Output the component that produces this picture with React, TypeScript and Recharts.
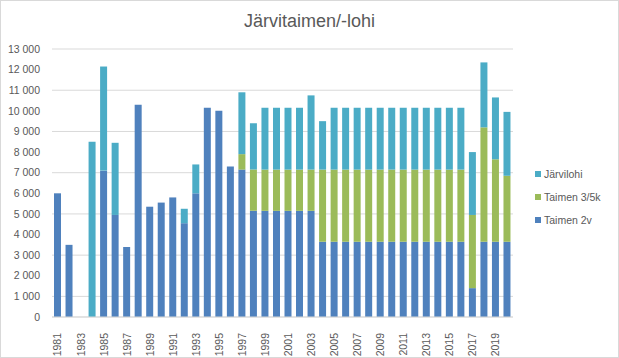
import React from "react";
import { BarChart, Bar, XAxis, YAxis, CartesianGrid } from "recharts";

const years = [
  "1981","1982","1983","1984","1985","1986","1987","1988","1989","1990",
  "1991","1992","1993","1994","1995","1996","1997","1998","1999","2000",
  "2001","2002","2003","2004","2005","2006","2007","2008","2009","2010",
  "2011","2012","2013","2014","2015","2016","2017","2018","2019","2020",
];

const taimen2v = [
  6000, 3500, 0, 0, 7100, 4950, 3400, 10300, 5350, 5550,
  5800, 4550, 6000, 10150, 10000, 7300, 7150, 5150, 5150, 5150,
  5150, 5150, 5150, 3650, 3650, 3650, 3650, 3650, 3650, 3650,
  3650, 3650, 3650, 3650, 3650, 3650, 1400, 3650, 3650, 3650,
];

const taimen35k = [
  0, 0, 0, 0, 0, 0, 0, 0, 0, 0,
  0, 0, 0, 0, 0, 0, 750, 2000, 2000, 2000,
  2000, 2000, 2000, 3500, 3500, 3500, 3500, 3500, 3500, 3500,
  3500, 3500, 3500, 3500, 3500, 3500, 3550, 5550, 4000, 3200,
];

const jarvilohi = [
  0, 0, 0, 8500, 5050, 3500, 0, 0, 0, 0,
  0, 700, 1400, 0, 0, 0, 3000, 2250, 3000, 3000,
  3000, 3000, 3600, 2350, 3000, 3000, 3000, 3000, 3000, 3000,
  3000, 3000, 3000, 3000, 3000, 3000, 3050, 3150, 3000, 3100,
];

const yTicks = [0, 1000, 2000, 3000, 4000, 5000, 6000, 7000, 8000, 9000, 10000, 11000, 12000, 13000];

const seriesNames = { t2: "Taimen 2v", t35: "Taimen 3/5k", jl: "Järvilohi" };
const colors = { t2: "#4F81BD", t35: "#9BBB59", jl: "#4BACC6" };

const data = years.map((y, i) => ({
  year: y,
  t2: taimen2v[i],
  t35: taimen35k[i],
  jl: jarvilohi[i],
}));

const FONT = "'Liberation Sans', Arial, sans-serif";
const TEXT = "#595959";

const fmt = (v: number) => {
  const s = String(v);
  return s.length > 3 ? s.slice(0, s.length - 3) + " " + s.slice(-3) : s;
};

const XTick = (props: any) => {
  const { x, y, payload } = props;
  return (
    <text
      transform={`translate(${x},${y + 8}) rotate(-90)`}
      textAnchor="end"
      dy="0.35em"
      fontSize={10.5}
      fill={TEXT}
      fontFamily={FONT}
    >
      {payload.value}
    </text>
  );
};

const LegendBox = () => {
  const items = [
    { key: "jl", name: seriesNames.jl },
    { key: "t35", name: seriesNames.t35 },
    { key: "t2", name: seriesNames.t2 },
  ];
  return (
    <div
      style={{
        position: "absolute",
        left: 535,
        top: 162,
        fontFamily: FONT,
        fontSize: 10.5,
        color: TEXT,
      }}
    >
      {items.map((it) => (
        <div key={it.key} style={{ display: "flex", alignItems: "center", height: 23 }}>
          <span
            style={{
              display: "inline-block",
              width: 6,
              height: 6,
              background: (colors as any)[it.key],
              marginRight: 3,
            }}
          />
          <span>{it.name}</span>
        </div>
      ))}
    </div>
  );
};

export default function App() {
  return (
    <div
      style={{
        position: "absolute",
        left: 0,
        top: 0,
        width: 619,
        height: 358,
        background: "#fff",
      }}
    >
      <div
        style={{
          position: "absolute",
          left: 0,
          top: 0,
          width: 617,
          height: 356,
          border: "1px solid #d9d9d9",
        }}
      />
      <div
        style={{
          position: "absolute",
          left: 0,
          width: 619,
          top: 11,
          textAlign: "center",
          fontFamily: FONT,
          fontSize: 18,
          color: TEXT,
        }}
      >
        Järvitaimen/-lohi
      </div>
      <div style={{ position: "absolute", left: 0, top: 0 }}>
        <BarChart
          width={619}
          height={358}
          data={data}
          margin={{ top: 49, right: 106, bottom: 1, left: 0 }}
        >
          <CartesianGrid vertical={false} stroke="#d9d9d9" />
          <XAxis
            dataKey="year"
            interval={1}
            tickLine={false}
            axisLine={{ stroke: "#d9d9d9" }}
            tick={<XTick />}
            height={40}
          />
          <YAxis
            domain={[0, 13000]}
            ticks={yTicks}
            tickFormatter={fmt}
            axisLine={false}
            tickLine={false}
            width={52}
            tick={{ fontSize: 10.5, fill: TEXT, fontFamily: FONT }}
            tickMargin={6}
          />
          <Bar dataKey="t2" name={seriesNames.t2} stackId="a" barSize={7} fill={colors.t2} isAnimationActive={false} />
          <Bar dataKey="t35" name={seriesNames.t35} stackId="a" barSize={7} fill={colors.t35} isAnimationActive={false} />
          <Bar dataKey="jl" name={seriesNames.jl} stackId="a" barSize={7} fill={colors.jl} isAnimationActive={false} />
        </BarChart>
      </div>
      <LegendBox />
    </div>
  );
}
